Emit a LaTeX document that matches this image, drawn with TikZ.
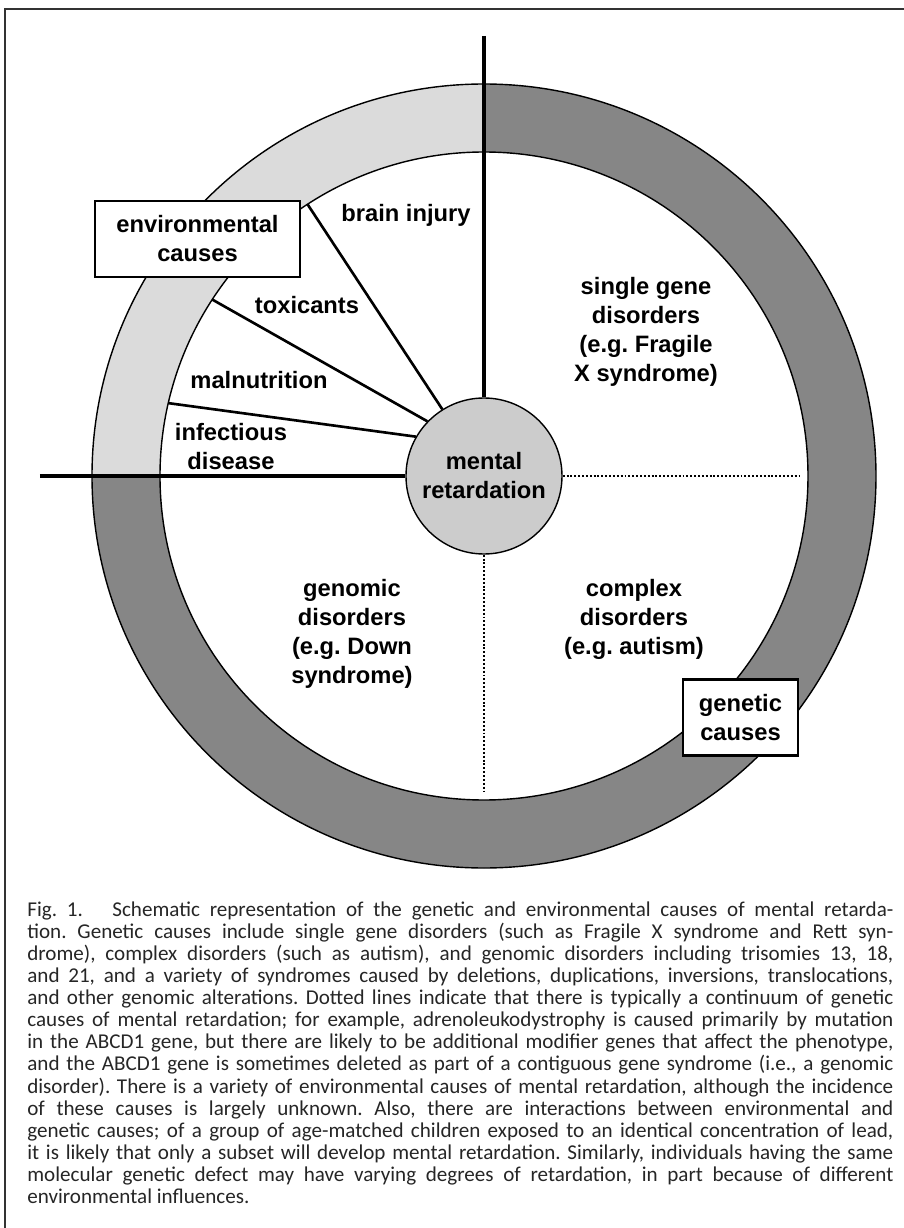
\documentclass[tikz,border=0pt]{standalone}
\usepackage{fontspec}
\usepackage{graphicx}
\setmainfont{Carlito}
\newfontfamily\labelfont{Liberation Sans}
\newsavebox{\capbox}
\newcommand{\capline}[1]{\sbox{\capbox}{#1}\ifdim\wd\capbox>17.32cm\resizebox{17.32cm}{\height}{\usebox{\capbox}}\else\makebox[17.32cm][s]{#1}\fi}
\frenchspacing
\begin{document}
\begin{tikzpicture}[
		lab/.style={font=\labelfont\bfseries\fontsize{13.5}{16.5}\selectfont, align=center},
		causebox/.style={lab, draw, fill=white, line width=1.5pt, minimum height=1.52cm},
		axis/.style={line width=2.6pt},
		spoke/.style={line width=1.5pt},
		cont/.style={line width=1.1pt, dash pattern=on 1.1pt off 1.1pt},
		ring/.style={line width=0.8pt}]
		\useasboundingbox (-9.68,9.52) rectangle (8.40,-15.04);
		\draw[line width=1.2pt, black!80] (-9.58,-15.2) -- (-9.58,9.34) -- (8.6,9.34);
		\fill[gray!28] (90:7.84) arc(90:180:7.84) -- (180:6.48) arc(180:90:6.48) -- cycle;
		\fill[gray!95] (180:7.84) arc(180:450:7.84) -- (90:6.48) arc(90:-180:6.48) -- cycle;
		\draw[ring] (0,0) circle(7.84);
		\draw[ring] (0,0) circle(6.48);
		\node[lab, circle, draw, ring, fill=gray!40, minimum size=3.12cm] (mr) at (0,0) {mental\\retardation};
		\coordinate (top) at (0,8.8);
		\coordinate (left) at (-8.88,0);
		\coordinate (right) at (0:6.35);
		\coordinate (bottom) at (-90:6.3);
		\coordinate (s1) at (123:6.48);
		\coordinate (s2) at (147:6.48);
		\coordinate (s3) at (167:6.48);
		\draw[axis] (top) -- (mr.north);
		\draw[axis] (left) -- (mr.west);
		\draw[cont] (mr.east) -- (right);
		\draw[cont] (mr.south) -- (bottom);
		\draw[spoke] (s1) -- (mr.122);
		\draw[spoke] (s2) -- (mr.136);
		\draw[spoke] (s3) -- (mr.150);
		\node[lab] (brain) at (-1.56,5.22) {brain injury};
		\node[lab] (toxic) at (-3.54,3.42) {toxicants};
		\node[lab] (malnu) at (-4.5,1.92) {malnutrition};
		\node[lab] (infect) at (-5.06,0.58) {infectious\\disease};
		\node[lab] (single) at (3.24,2.88) {single gene\\disorders\\(e.g. Fragile\\X syndrome)};
		\node[lab] (genomic) at (-2.64,-3.16) {genomic\\disorders\\(e.g. Down\\syndrome)};
		\node[lab] (complex) at (3.0,-2.86) {complex\\disorders\\(e.g. autism)};
		\node[causebox, minimum width=4.1cm] (env) at (-5.73,4.74) {environmental\\causes};
		\node[causebox, minimum width=2.3cm] (gen) at (5.13,-4.83) {genetic\\causes};
		\node[anchor=north west, inner sep=0pt, align=left, font=\fontsize{12}{12.6}\selectfont, black!85] (cap) at (-9.14,-8.5) {%
			\capline{Fig. 1.\hspace*{1.4em}Schematic representation of the genetic and environmental causes of mental retarda-}\\
			\capline{tion. Genetic causes include single gene disorders (such as Fragile X syndrome and Rett syn-}\\
			\capline{drome), complex disorders (such as autism), and genomic disorders including trisomies 13, 18,}\\
			\capline{and 21, and a variety of syndromes caused by deletions, duplications, inversions, translocations,}\\
			\capline{and other genomic alterations. Dotted lines indicate that there is typically a continuum of genetic}\\
			\capline{causes of mental retardation; for example, adrenoleukodystrophy is caused primarily by mutation}\\
			\capline{in the ABCD1 gene, but there are likely to be additional modifier genes that affect the phenotype,}\\
			\capline{and the ABCD1 gene is sometimes deleted as part of a contiguous gene syndrome (i.e., a genomic}\\
			\capline{disorder). There is a variety of environmental causes of mental retardation, although the incidence}\\
			\capline{of these causes is largely unknown. Also, there are interactions between environmental and}\\
			\capline{genetic causes; of a group of age-matched children exposed to an identical concentration of lead,}\\
			\capline{it is likely that only a subset will develop mental retardation. Similarly, individuals having the same}\\
			\capline{molecular genetic defect may have varying degrees of retardation, in part because of different}\\
			environmental influences.};
		\end{tikzpicture}
\end{document}
